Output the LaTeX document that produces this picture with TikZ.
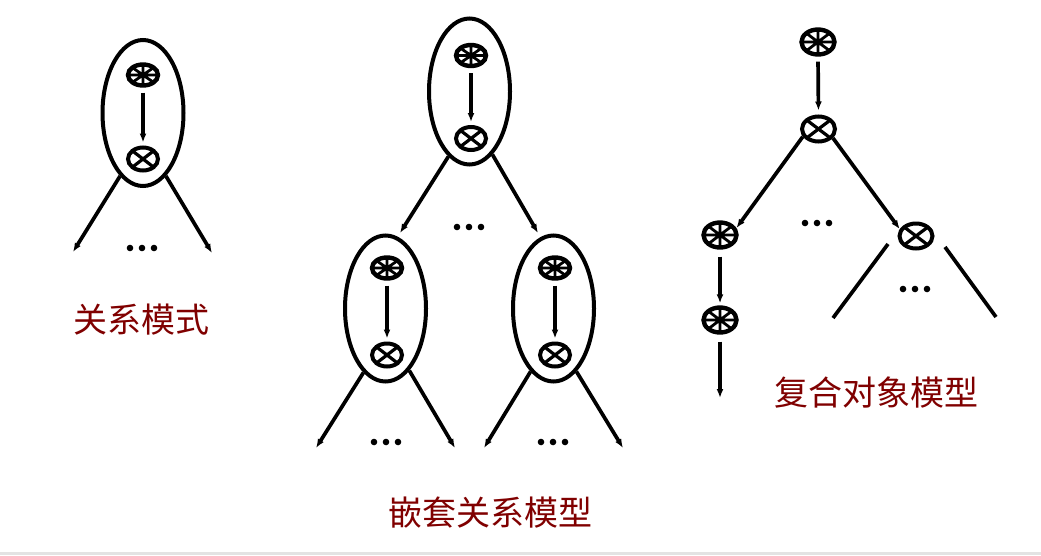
\documentclass[tikz,border=0pt]{standalone}
\usepackage{fontspec}
\newfontfamily\cjk{Noto Sans CJK SC}
\usetikzlibrary{shapes.geometric,arrows.meta}
\definecolor{labred}{HTML}{800000}
\tikzset{
  grp/.style={ellipse, draw, line width=4pt, minimum width=81pt, minimum height=146pt, inner sep=0pt},
  starn/.style={ellipse, draw, line width=4.4pt, minimum width=30pt, minimum height=21pt, inner sep=0pt,
    path picture={
      \draw[line width=2.8pt] (path picture bounding box.north) -- (path picture bounding box.south)
        (path picture bounding box.west) -- (path picture bounding box.east)
        (path picture bounding box.north west) -- (path picture bounding box.south east)
        (path picture bounding box.north east) -- (path picture bounding box.south west);}},
  crossn/.style={ellipse, draw, line width=4pt, minimum width=30pt, minimum height=23pt, inner sep=0pt,
    path picture={
      \draw[line width=3.2pt] (path picture bounding box.north west) -- (path picture bounding box.south east)
        (path picture bounding box.north east) -- (path picture bounding box.south west);}},
  big/.style={minimum width=33pt, minimum height=25pt},
  conn/.style={line width=3.7pt, -{Latex[length=9pt,width=7pt]}},
  plain/.style={line width=3.7pt},
  lab/.style={text=labred, font=\cjk\fontsize{34pt}{36pt}\selectfont, inner sep=0pt},
}
\newcommand{\dotrow}[2]{\foreach \dx in {-12,0,12} {\fill (#1+\dx,#2) circle (3.3);}}
\begin{document}
\begin{tikzpicture}[x=1pt,y=-1pt]
\useasboundingbox (0,0) rectangle (1041,555);
\fill[gray!22] (0,552) rectangle (1041,555);

% ---- left: relation model
\node[grp] (e1) at (143,113) {};
\node[starn] (s1) at (143,75) {};
\node[crossn] (x1) at (143,159) {};
\draw[conn, shorten <=5pt, shorten >=3pt] (s1.south) -- (x1.north);
\coordinate (e1l) at (73,252);
\coordinate (e1r) at (212,253);
\draw[conn] (e1.250) -- (e1l);
\draw[conn] (e1.290) -- (e1r);
\dotrow{142}{248}
\node[lab] (t1) at (141,320) {关系模式};

% ---- middle: nested relation model
\node[grp] (e2) at (469.5,91.5) {};
\node[starn] (s2) at (471,55.5) {};
\node[crossn] (x2) at (471,138.5) {};
\draw[conn, shorten <=5pt, shorten >=3pt] (s2.south) -- (x2.north);
\coordinate (e2l) at (400,233);
\coordinate (e2r) at (538,233);
\draw[conn] (e2.252) -- (e2l);
\draw[conn] (e2.290) -- (e2r);
\dotrow{469}{227}

\node[grp] (e3) at (385.5,308.5) {};
\node[starn] (s3) at (387,268) {};
\node[crossn] (x3) at (387,355) {};
\draw[conn, shorten <=5pt, shorten >=3pt] (s3.south) -- (x3.north);
\coordinate (e3l) at (316,448);
\coordinate (e3r) at (455,448);
\draw[conn] (e3.251) -- (e3l);
\draw[conn] (e3.291) -- (e3r);
\dotrow{386}{442}

\node[grp] (e4) at (553.5,308.5) {};
\node[starn] (s4) at (555,268) {};
\node[crossn] (x4) at (555,355) {};
\draw[conn, shorten <=5pt, shorten >=3pt] (s4.south) -- (x4.north);
\coordinate (e4l) at (484,448);
\coordinate (e4r) at (623,448);
\draw[conn] (e4.250) -- (e4l);
\draw[conn] (e4.290) -- (e4r);
\dotrow{553}{442}
\node[lab] (t2) at (490,513) {嵌套关系模型};

% ---- right: complex object model
\node[starn, big] (r1) at (818,42) {};
\node[crossn, big] (r2) at (818.5,129) {};
\draw[conn, shorten <=5pt, shorten >=4pt] (r1.south) -- (r2.north);
\node[starn, big] (r3) at (720,235) {};
\node[crossn, big] (r4) at (916,236) {};
\draw[conn] (r2.206) -- (r3.23);
\draw[conn] (r2.328) -- (r4.157);
\dotrow{817}{223}
\node[starn, big] (r5) at (720,320) {};
\draw[conn, shorten <=7pt, shorten >=2pt] (r3.south) -- (r5.north);
\coordinate (r5end) at (720,398);
\draw[conn, shorten <=7pt] (r5.south) -- (r5end);
\coordinate (r4a) at (888,244);
\coordinate (r4al) at (833,318);
\coordinate (r4b) at (945,247);
\coordinate (r4br) at (996,317);
\draw[plain] (r4a) -- (r4al);
\draw[plain] (r4b) -- (r4br);
\dotrow{915}{289}
\node[lab] (t3) at (876,393) {复合对象模型};
\end{tikzpicture}
\end{document}
